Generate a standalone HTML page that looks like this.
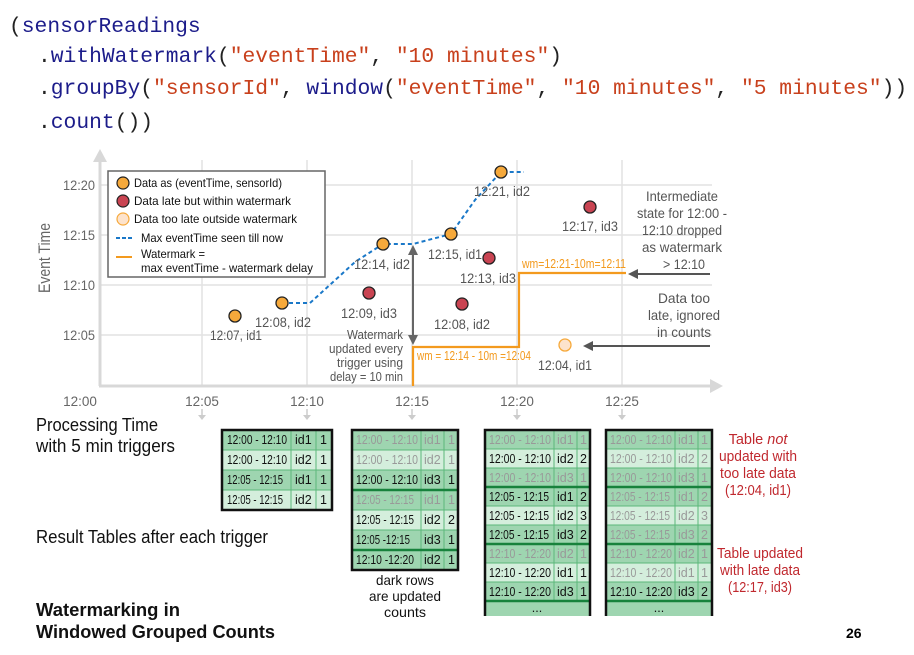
<!DOCTYPE html>
<html><head><meta charset="utf-8"><style>
html,body{margin:0;padding:0;background:#fff;}
svg{display:block;}
.code{font-family:"Liberation Mono",monospace;font-size:21.3px;}
.n{fill:#1c1c8a}.s{fill:#c8401c}.k{fill:#222}
.lbl{font-family:"Liberation Sans",sans-serif;font-size:13.5px;fill:#555;}
.ax{font-family:"Liberation Sans",sans-serif;font-size:13.5px;fill:#666;}
.lg{font-family:"Liberation Sans",sans-serif;font-size:12px;fill:#111;}
.tt{font-family:"Liberation Sans",sans-serif;font-size:12.5px;fill:#111;}
.f{fill:#999}
.big{font-family:"Liberation Sans",sans-serif;font-size:18.5px;fill:#111;}
.red{font-family:"Liberation Sans",sans-serif;font-size:14.5px;fill:#c0282e;}
.or{font-family:"Liberation Sans",sans-serif;font-size:12.5px;fill:#f39a1e;}
</style></head><body>
<svg width="914" height="655" viewBox="0 0 914 655" xmlns="http://www.w3.org/2000/svg">
<text class="code" x="9" y="32"><tspan class="k">(</tspan><tspan class="n">sensorReadings</tspan></text>
<text class="code" x="38" y="62"><tspan class="k">.</tspan><tspan class="n">withWatermark</tspan><tspan class="k">(</tspan><tspan class="s">"eventTime"</tspan><tspan class="k">, </tspan><tspan class="s">"10 minutes"</tspan><tspan class="k">)</tspan></text>
<text class="code" x="38" y="94"><tspan class="k">.</tspan><tspan class="n">groupBy</tspan><tspan class="k">(</tspan><tspan class="s">"sensorId"</tspan><tspan class="k">, </tspan><tspan class="n">window</tspan><tspan class="k">(</tspan><tspan class="s">"eventTime"</tspan><tspan class="k">, </tspan><tspan class="s">"10 minutes"</tspan><tspan class="k">, </tspan><tspan class="s">"5 minutes"</tspan><tspan class="k">))</tspan></text>
<text class="code" x="38" y="128"><tspan class="k">.</tspan><tspan class="n">count</tspan><tspan class="k">())</tspan></text>

<g stroke="#e2e2e2" stroke-width="1.5">
<line x1="100" y1="185" x2="712" y2="185"/><line x1="100" y1="235" x2="712" y2="235"/>
<line x1="100" y1="285" x2="712" y2="285"/><line x1="100" y1="335" x2="712" y2="335"/>
<line x1="202" y1="160" x2="202" y2="385"/><line x1="307" y1="160" x2="307" y2="385"/>
<line x1="412" y1="160" x2="412" y2="385"/><line x1="517" y1="160" x2="517" y2="385"/>
<line x1="622" y1="160" x2="622" y2="385"/>
</g>
<g stroke="#d8d8d8" stroke-width="3" fill="none">
<line x1="100" y1="158" x2="100" y2="386"/><line x1="99" y1="386" x2="712" y2="386"/>
</g>
<polygon points="100,149 93,162 107,162" fill="#d8d8d8"/>
<polygon points="723,386 710,379 710,393" fill="#d8d8d8"/>
<g class="ax" text-anchor="end">
<text x="95" y="190" textLength="32" lengthAdjust="spacingAndGlyphs">12:20</text><text x="95" y="240" textLength="32" lengthAdjust="spacingAndGlyphs">12:15</text><text x="95" y="290" textLength="32" lengthAdjust="spacingAndGlyphs">12:10</text><text x="95" y="340" textLength="32" lengthAdjust="spacingAndGlyphs">12:05</text>
</g>
<text class="ax" transform="translate(50,258) rotate(-90)" text-anchor="middle" style="font-size:17px" textLength="70" lengthAdjust="spacingAndGlyphs">Event Time</text>
<g class="ax" text-anchor="middle">
<text x="80" y="406">12:00</text><text x="202" y="406">12:05</text><text x="307" y="406">12:10</text><text x="412" y="406">12:15</text><text x="517" y="406">12:20</text><text x="622" y="406">12:25</text>
</g>
<g stroke="#ccc" stroke-width="1.5" fill="#ccc">
<line x1="202" y1="409" x2="202" y2="416"/><polygon points="198,415 206,415 202,420" stroke="none"/>
<line x1="307" y1="409" x2="307" y2="416"/><polygon points="303,415 311,415 307,420" stroke="none"/>
<line x1="412" y1="409" x2="412" y2="416"/><polygon points="408,415 416,415 412,420" stroke="none"/>
<line x1="517" y1="409" x2="517" y2="416"/><polygon points="513,415 521,415 517,420" stroke="none"/>
<line x1="622" y1="409" x2="622" y2="416"/><polygon points="618,415 626,415 622,420" stroke="none"/>
</g>

<rect x="108" y="171" width="217" height="106" fill="#fff" stroke="#666" stroke-width="1.5"/>
<circle cx="123" cy="183" r="6" fill="#f6a93b" stroke="#222" stroke-width="1.2"/>
<circle cx="123" cy="201" r="6" fill="#c94452" stroke="#222" stroke-width="1.2"/>
<circle cx="123" cy="219" r="6" fill="#fde3cc" stroke="#f6a93b" stroke-width="1.2"/>
<line x1="116" y1="238" x2="132" y2="238" stroke="#1a78c8" stroke-width="2" stroke-dasharray="4,2"/>
<line x1="116" y1="257" x2="132" y2="257" stroke="#f39a1e" stroke-width="2"/>
<g class="lg">
<text x="134" y="187" textLength="148" lengthAdjust="spacingAndGlyphs">Data as (eventTime, sensorId)</text>
<text x="134" y="205" textLength="157" lengthAdjust="spacingAndGlyphs">Data late but within watermark</text>
<text x="134" y="223" textLength="163" lengthAdjust="spacingAndGlyphs">Data too late outside watermark</text>
<text x="141" y="242" textLength="142" lengthAdjust="spacingAndGlyphs">Max eventTime seen till now</text>
<text x="141" y="258" textLength="64" lengthAdjust="spacingAndGlyphs">Watermark =</text>
<text x="141" y="272" textLength="172" lengthAdjust="spacingAndGlyphs">max eventTime - watermark delay</text>
</g>

<polyline points="282,303 310,303 355,262 383,244 413,244 451,234 475,200 501,172 524,172" fill="none" stroke="#1a78c8" stroke-width="2" stroke-dasharray="4,3"/>
<polyline points="413,386 413,347 519,347 519,273 626,273" fill="none" stroke="#f39a1e" stroke-width="2.2"/>
<text class="or" x="417" y="360" textLength="114" lengthAdjust="spacingAndGlyphs">wm = 12:14 - 10m =12:04</text>
<text class="or" x="522" y="268" textLength="104" lengthAdjust="spacingAndGlyphs">wm=12:21-10m=12:11</text>
<line x1="413" y1="252" x2="413" y2="338" stroke="#666" stroke-width="2"/>
<polygon points="413,245 408,255 418,255" fill="#666"/>
<polygon points="413,345 408,335 418,335" fill="#666"/>
<g class="lbl" text-anchor="end" style="font-size:12.5px">
<text x="403" y="339" textLength="56" lengthAdjust="spacingAndGlyphs">Watermark</text><text x="403" y="353" textLength="74" lengthAdjust="spacingAndGlyphs">updated every</text><text x="403" y="367" textLength="66" lengthAdjust="spacingAndGlyphs">trigger using</text><text x="403" y="381" textLength="73" lengthAdjust="spacingAndGlyphs">delay = 10 min</text>
</g>
<line x1="710" y1="274" x2="636" y2="274" stroke="#555" stroke-width="2"/>
<polygon points="628,274 638,269 638,279" fill="#555"/>
<line x1="710" y1="346" x2="592" y2="346" stroke="#555" stroke-width="2"/>
<polygon points="583,346 593,341 593,351" fill="#555"/>
<g class="lbl" text-anchor="middle" style="font-size:14px">
<text x="682" y="201" textLength="72" lengthAdjust="spacingAndGlyphs">Intermediate</text><text x="682" y="218" textLength="90" lengthAdjust="spacingAndGlyphs">state for 12:00 -</text><text x="682" y="235" textLength="80" lengthAdjust="spacingAndGlyphs">12:10 dropped</text><text x="682" y="252" textLength="80" lengthAdjust="spacingAndGlyphs">as watermark</text><text x="684" y="269" textLength="42" lengthAdjust="spacingAndGlyphs">&gt; 12:10</text>
<text x="684" y="303" textLength="52" lengthAdjust="spacingAndGlyphs">Data too</text><text x="684" y="320" textLength="72" lengthAdjust="spacingAndGlyphs">late, ignored</text><text x="684" y="337" textLength="54" lengthAdjust="spacingAndGlyphs">in counts</text>
</g>

<g stroke="#222" stroke-width="1.3">
<circle cx="235" cy="316" r="6" fill="#f6a93b"/>
<circle cx="282" cy="303" r="6" fill="#f6a93b"/>
<circle cx="383" cy="244" r="6" fill="#f6a93b"/>
<circle cx="451" cy="234" r="6" fill="#f6a93b"/>
<circle cx="501" cy="172" r="6" fill="#f6a93b"/>
<circle cx="369" cy="293" r="6" fill="#c94452"/>
<circle cx="489" cy="258" r="6" fill="#c94452"/>
<circle cx="462" cy="304" r="6" fill="#c94452"/>
<circle cx="590" cy="207" r="6" fill="#c94452"/>
</g>
<circle cx="565" cy="345" r="6" fill="#fde3cc" stroke="#f6a93b" stroke-width="1.3"/>
<g class="lbl" text-anchor="middle">
<text x="236" y="340" textLength="52" lengthAdjust="spacingAndGlyphs">12:07, id1</text>
<text x="283" y="327" textLength="56" lengthAdjust="spacingAndGlyphs">12:08, id2</text>
<text x="382" y="269" textLength="56" lengthAdjust="spacingAndGlyphs">12:14, id2</text>
<text x="369" y="318" textLength="56" lengthAdjust="spacingAndGlyphs">12:09, id3</text>
<text x="455" y="259" textLength="54" lengthAdjust="spacingAndGlyphs">12:15, id1</text>
<text x="502" y="196" textLength="56" lengthAdjust="spacingAndGlyphs">12:21, id2</text>
<text x="488" y="283" textLength="56" lengthAdjust="spacingAndGlyphs">12:13, id3</text>
<text x="462" y="329" textLength="56" lengthAdjust="spacingAndGlyphs">12:08, id2</text>
<text x="590" y="231" textLength="56" lengthAdjust="spacingAndGlyphs">12:17, id3</text>
<text x="565" y="370" textLength="54" lengthAdjust="spacingAndGlyphs">12:04, id1</text>
</g>

<g class="big">
<text x="36" y="431" textLength="122" lengthAdjust="spacingAndGlyphs">Processing Time</text>
<text x="36" y="452" textLength="139" lengthAdjust="spacingAndGlyphs">with 5 min triggers</text>
<text x="36" y="543" textLength="232" lengthAdjust="spacingAndGlyphs">Result Tables after each trigger</text>
<text x="36" y="616" font-weight="bold" textLength="144" lengthAdjust="spacingAndGlyphs">Watermarking in</text>
<text x="36" y="638" font-weight="bold" textLength="239" lengthAdjust="spacingAndGlyphs">Windowed Grouped Counts</text>
</g>
<text x="846" y="638" font-family="Liberation Sans,sans-serif" font-size="14" font-weight="bold">26</text>

<g>
<rect x="222" y="430" width="110" height="20" fill="#9ed5b0"/><rect x="222" y="450" width="110" height="20" fill="#d4eedc"/>
<rect x="222" y="470" width="110" height="20" fill="#9ed5b0"/><rect x="222" y="490" width="110" height="20" fill="#d4eedc"/>
<g stroke="#5cb87a" stroke-width="1"><line x1="222" y1="450" x2="332" y2="450"/><line x1="222" y1="470" x2="332" y2="470"/><line x1="222" y1="490" x2="332" y2="490"/><line x1="291" y1="430" x2="291" y2="510"/><line x1="316" y1="430" x2="316" y2="510"/></g>
<rect x="222" y="430" width="110" height="80" fill="none" stroke="#111" stroke-width="2.5"/>
<g class="tt"><text x="227" y="444" textLength="60" lengthAdjust="spacingAndGlyphs">12:00 - 12:10</text><text x="295" y="444">id1</text><text x="320" y="444">1</text>
<text x="227" y="464" textLength="60" lengthAdjust="spacingAndGlyphs">12:00 - 12:10</text><text x="295" y="464">id2</text><text x="320" y="464">1</text>
<text x="227" y="484" textLength="56" lengthAdjust="spacingAndGlyphs">12:05 - 12:15</text><text x="295" y="484">id1</text><text x="320" y="484">1</text>
<text x="227" y="504" textLength="56" lengthAdjust="spacingAndGlyphs">12:05 - 12:15</text><text x="295" y="504">id2</text><text x="320" y="504">1</text></g>
</g>

<g>
<rect x="352" y="430" width="106" height="20" fill="#9ed5b0"/><rect x="352" y="450" width="106" height="20" fill="#d4eedc"/>
<rect x="352" y="470" width="106" height="20" fill="#9ed5b0"/><rect x="352" y="490" width="106" height="20" fill="#9ed5b0"/>
<rect x="352" y="510" width="106" height="20" fill="#d4eedc"/><rect x="352" y="530" width="106" height="20" fill="#9ed5b0"/>
<rect x="352" y="550" width="106" height="20" fill="#9ed5b0"/>
<g stroke="#5cb87a" stroke-width="1"><line x1="352" y1="450" x2="458" y2="450"/><line x1="352" y1="470" x2="458" y2="470"/><line x1="352" y1="510" x2="458" y2="510"/><line x1="352" y1="530" x2="458" y2="530"/><line x1="421" y1="430" x2="421" y2="570"/><line x1="444" y1="430" x2="444" y2="570"/></g>
<g stroke="#17823c" stroke-width="2.5"><line x1="352" y1="490" x2="458" y2="490"/><line x1="352" y1="550" x2="458" y2="550"/></g>
<rect x="352" y="430" width="106" height="140" fill="none" stroke="#111" stroke-width="2.5"/>
<g class="tt"><text class="f" x="356" y="444" textLength="62" lengthAdjust="spacingAndGlyphs">12:00 - 12:10</text><text class="f" x="424" y="444">id1</text><text class="f" x="448" y="444">1</text>
<text class="f" x="356" y="464" textLength="62" lengthAdjust="spacingAndGlyphs">12:00 - 12:10</text><text class="f" x="424" y="464">id2</text><text class="f" x="448" y="464">1</text>
<text x="356" y="484" textLength="62" lengthAdjust="spacingAndGlyphs">12:00 - 12:10</text><text x="424" y="484">id3</text><text x="448" y="484">1</text>
<text class="f" x="356" y="504" textLength="58" lengthAdjust="spacingAndGlyphs">12:05 - 12:15</text><text class="f" x="424" y="504">id1</text><text class="f" x="448" y="504">1</text>
<text x="356" y="524" textLength="58" lengthAdjust="spacingAndGlyphs">12:05 - 12:15</text><text x="424" y="524">id2</text><text x="448" y="524">2</text>
<text x="356" y="544" textLength="54" lengthAdjust="spacingAndGlyphs">12:05 -12:15</text><text x="424" y="544">id3</text><text x="448" y="544">1</text>
<text x="356" y="564" textLength="58" lengthAdjust="spacingAndGlyphs">12:10 -12:20</text><text x="424" y="564">id2</text><text x="448" y="564">1</text></g>
</g>
<g class="lbl" text-anchor="middle" style="font-size:14px;fill:#111"><text x="405" y="585" textLength="58" lengthAdjust="spacingAndGlyphs">dark rows</text><text x="405" y="601" textLength="72" lengthAdjust="spacingAndGlyphs">are updated</text><text x="405" y="617" textLength="42" lengthAdjust="spacingAndGlyphs">counts</text></g>

<g>
<rect x="485" y="430" width="105" height="186" fill="#9ed5b0"/>
<rect x="485" y="449" width="105" height="19" fill="#d4eedc"/><rect x="485" y="506" width="105" height="19" fill="#d4eedc"/><rect x="485" y="563" width="105" height="19" fill="#d4eedc"/>
<g stroke="#5cb87a" stroke-width="1"><line x1="485" y1="449" x2="590" y2="449"/><line x1="485" y1="468" x2="590" y2="468"/><line x1="485" y1="506" x2="590" y2="506"/><line x1="485" y1="525" x2="590" y2="525"/><line x1="485" y1="563" x2="590" y2="563"/><line x1="485" y1="582" x2="590" y2="582"/><line x1="554" y1="430" x2="554" y2="601"/><line x1="577" y1="430" x2="577" y2="601"/></g>
<g stroke="#17823c" stroke-width="2.5"><line x1="485" y1="487" x2="590" y2="487"/><line x1="485" y1="544" x2="590" y2="544"/><line x1="485" y1="601" x2="590" y2="601"/></g>
<path d="M485,616 V430 H590 V616" fill="none" stroke="#111" stroke-width="2.5"/>
<g class="tt"><text class="f" x="489" y="444" textLength="62" lengthAdjust="spacingAndGlyphs">12:00 - 12:10</text><text class="f" x="557" y="444">id1</text><text class="f" x="580" y="444">1</text>
<text x="489" y="463" textLength="62" lengthAdjust="spacingAndGlyphs">12:00 - 12:10</text><text x="557" y="463">id2</text><text x="580" y="463">2</text>
<text class="f" x="489" y="482" textLength="62" lengthAdjust="spacingAndGlyphs">12:00 - 12:10</text><text class="f" x="557" y="482">id3</text><text class="f" x="580" y="482">1</text>
<text x="489" y="501" textLength="60" lengthAdjust="spacingAndGlyphs">12:05 - 12:15</text><text x="557" y="501">id1</text><text x="580" y="501">2</text>
<text x="489" y="520" textLength="60" lengthAdjust="spacingAndGlyphs">12:05 - 12:15</text><text x="557" y="520">id2</text><text x="580" y="520">3</text>
<text x="489" y="539" textLength="60" lengthAdjust="spacingAndGlyphs">12:05 - 12:15</text><text x="557" y="539">id3</text><text x="580" y="539">2</text>
<text class="f" x="489" y="558" textLength="62" lengthAdjust="spacingAndGlyphs">12:10 - 12:20</text><text class="f" x="557" y="558">id2</text><text class="f" x="580" y="558">1</text>
<text x="489" y="577" textLength="62" lengthAdjust="spacingAndGlyphs">12:10 - 12:20</text><text x="557" y="577">id1</text><text x="580" y="577">1</text>
<text x="489" y="596" textLength="62" lengthAdjust="spacingAndGlyphs">12:10 - 12:20</text><text x="557" y="596">id3</text><text x="580" y="596">1</text>
<text x="537" y="612" text-anchor="middle">...</text></g>
</g>

<g>
<rect x="606" y="430" width="106" height="186" fill="#9ed5b0"/>
<rect x="606" y="449" width="106" height="19" fill="#d4eedc"/><rect x="606" y="506" width="106" height="19" fill="#d4eedc"/><rect x="606" y="563" width="106" height="19" fill="#d4eedc"/>
<g stroke="#5cb87a" stroke-width="1"><line x1="606" y1="449" x2="712" y2="449"/><line x1="606" y1="468" x2="712" y2="468"/><line x1="606" y1="506" x2="712" y2="506"/><line x1="606" y1="525" x2="712" y2="525"/><line x1="606" y1="563" x2="712" y2="563"/><line x1="606" y1="582" x2="712" y2="582"/><line x1="675" y1="430" x2="675" y2="601"/><line x1="698" y1="430" x2="698" y2="601"/></g>
<g stroke="#17823c" stroke-width="2.5"><line x1="606" y1="487" x2="712" y2="487"/><line x1="606" y1="544" x2="712" y2="544"/><line x1="606" y1="601" x2="712" y2="601"/></g>
<path d="M606,616 V430 H712 V616" fill="none" stroke="#111" stroke-width="2.5"/>
<g class="tt"><text class="f" x="610" y="444" textLength="62" lengthAdjust="spacingAndGlyphs">12:00 - 12:10</text><text class="f" x="678" y="444">id1</text><text class="f" x="701" y="444">1</text>
<text class="f" x="610" y="463" textLength="62" lengthAdjust="spacingAndGlyphs">12:00 - 12:10</text><text class="f" x="678" y="463">id2</text><text class="f" x="701" y="463">2</text>
<text class="f" x="610" y="482" textLength="62" lengthAdjust="spacingAndGlyphs">12:00 - 12:10</text><text class="f" x="678" y="482">id3</text><text class="f" x="701" y="482">1</text>
<text class="f" x="610" y="501" textLength="60" lengthAdjust="spacingAndGlyphs">12:05 - 12:15</text><text class="f" x="678" y="501">id1</text><text class="f" x="701" y="501">2</text>
<text class="f" x="610" y="520" textLength="60" lengthAdjust="spacingAndGlyphs">12:05 - 12:15</text><text class="f" x="678" y="520">id2</text><text class="f" x="701" y="520">3</text>
<text class="f" x="610" y="539" textLength="60" lengthAdjust="spacingAndGlyphs">12:05 - 12:15</text><text class="f" x="678" y="539">id3</text><text class="f" x="701" y="539">2</text>
<text class="f" x="610" y="558" textLength="62" lengthAdjust="spacingAndGlyphs">12:10 - 12:20</text><text class="f" x="678" y="558">id2</text><text class="f" x="701" y="558">1</text>
<text class="f" x="610" y="577" textLength="62" lengthAdjust="spacingAndGlyphs">12:10 - 12:20</text><text class="f" x="678" y="577">id1</text><text class="f" x="701" y="577">1</text>
<text x="610" y="596" textLength="62" lengthAdjust="spacingAndGlyphs">12:10 - 12:20</text><text x="678" y="596">id3</text><text x="701" y="596">2</text>
<text x="659" y="612" text-anchor="middle">...</text></g>
</g>

<g class="red" text-anchor="middle">
<text x="758" y="444">Table <tspan font-style="italic">not</tspan></text>
<text x="758" y="461" textLength="78" lengthAdjust="spacingAndGlyphs">updated with</text><text x="758" y="478" textLength="76" lengthAdjust="spacingAndGlyphs">too late data</text><text x="758" y="495" textLength="66" lengthAdjust="spacingAndGlyphs">(12:04, id1)</text>
<text x="760" y="558" textLength="86" lengthAdjust="spacingAndGlyphs">Table updated</text><text x="760" y="575" textLength="80" lengthAdjust="spacingAndGlyphs">with late data</text><text x="760" y="592" textLength="64" lengthAdjust="spacingAndGlyphs">(12:17, id3)</text>
</g>
</svg>
</body></html>
